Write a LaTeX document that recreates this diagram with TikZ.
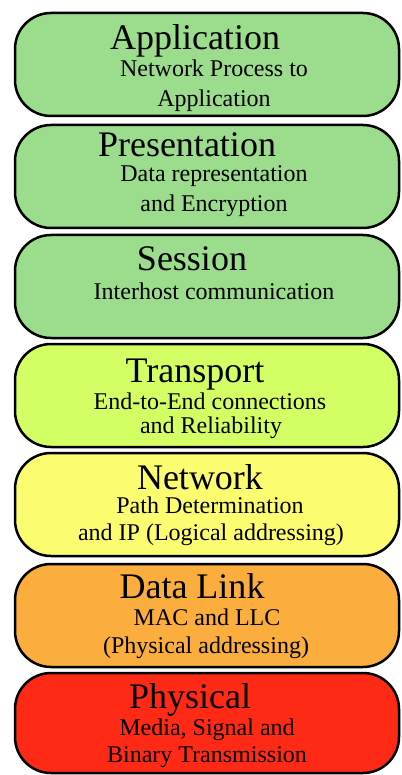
\documentclass[tikz,border=0pt]{standalone}
\usepackage{fontspec}
\setmainfont{Liberation Serif}
\definecolor{upperlayer}{RGB}{155,221,140}
\definecolor{transportlayer}{RGB}{212,255,100}
\definecolor{networklayer}{RGB}{252,252,112}
\definecolor{linklayer}{RGB}{251,174,62}
\definecolor{physlayer}{RGB}{255,42,22}
\tikzset{
  layerbox/.style={draw=black, line width=2.5pt, rounded corners=36pt,
    minimum width=384pt, minimum height=103pt, inner sep=0pt},
  layername/.style={anchor=base, inner sep=0pt, font=\fontsize{36}{36}\selectfont},
  layerinfo/.style={anchor=base, inner sep=0pt, font=\fontsize{24}{24}\selectfont}
}
\begin{document}
\begin{tikzpicture}[x=1pt,y=-1pt]
\useasboundingbox (0,0) rectangle (401,775);
% layer boxes, top to bottom
\node[layerbox, fill=upperlayer] (app) at (207,64.5) {};
\node[layerbox, fill=upperlayer] (pres) at (207,176.5) {};
\node[layerbox, fill=upperlayer] (sess) at (207,286.5) {};
\node[layerbox, fill=transportlayer] (trans) at (207,395.5) {};
\node[layerbox, fill=networklayer] (net) at (207,504.5) {};
\node[layerbox, fill=linklayer] (link) at (207,615.5) {};
\node[layerbox, fill=physlayer, minimum height=100pt] (phys) at (207,723) {};
% texts
\node[layername] (appname) at (195,50) {Application};
\node[layerinfo] (appinfoa) at (214,77) {Network Process to};
\node[layerinfo] (appinfob) at (214,107) {Application};
\node[layername] (presname) at (187,157) {Presentation};
\node[layerinfo] (presinfoa) at (214,182) {Data representation};
\node[layerinfo] (presinfob) at (214,212) {and Encryption};
\node[layername] (sessname) at (192,270) {Session};
\node[layerinfo] (sessinfoa) at (214,299) {Interhost communication};
\node[layername] (transname) at (195,382) {Transport};
\node[layerinfo] (transinfoa) at (210,409) {End-to-End connections};
\node[layerinfo] (transinfob) at (211,433) {and Reliability};
\node[layername] (netname) at (200,489) {Network};
\node[layerinfo] (netinfoa) at (210,513) {Path Determination};
\node[layerinfo] (netinfob) at (211,540) {and IP (Logical addressing)};
\node[layername] (linkname) at (192,598) {Data Link};
\node[layerinfo] (linkinfoa) at (207,625) {MAC and LLC};
\node[layerinfo] (linkinfob) at (206,653) {(Physical addressing)};
\node[layername] (physname) at (190,708) {Physical};
\node[layerinfo] (physinfoa) at (207,735) {Media, Signal and};
\node[layerinfo] (physinfob) at (207,762) {Binary Transmission};
\end{tikzpicture}
\end{document}
